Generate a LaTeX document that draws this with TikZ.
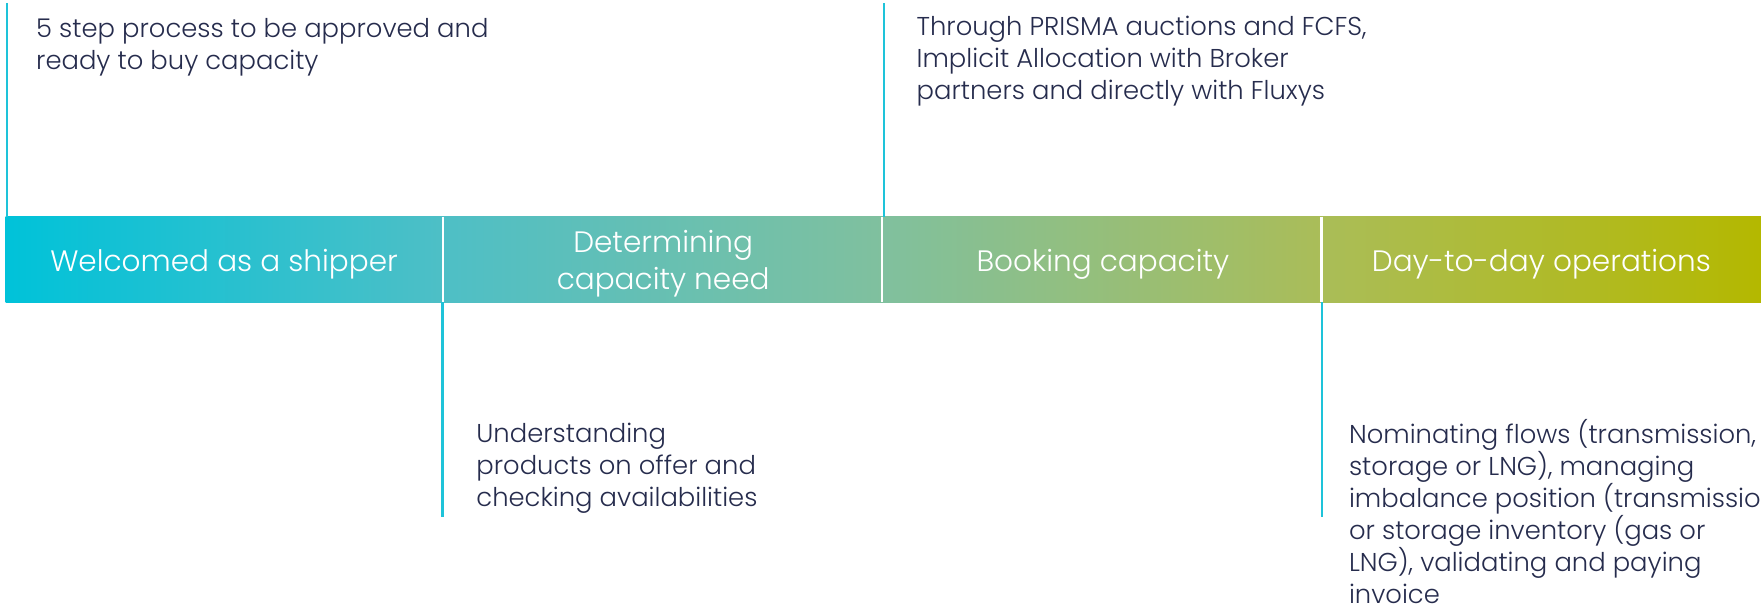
\documentclass[tikz,border=0pt]{standalone}
\usepackage{fontspec}
\setmainfont{Poppins}
\IfFontExistsTF{Poppins Light}{\newfontfamily\lightfont{Poppins Light}}{\newfontfamily\lightfont{Poppins}}
\definecolor{txt}{HTML}{262C4D}
\definecolor{vline}{HTML}{1EC3D9}
\definecolor{c0}{HTML}{00C2D9}
\definecolor{c1}{HTML}{4EBFC6}
\definecolor{c2}{HTML}{80C09E}
\definecolor{c3}{HTML}{AABD58}
\definecolor{c4}{HTML}{B4B800}
\pgfdeclarehorizontalshading{barshade}{100bp}{color(0bp)=(c0); color(25bp)=(c0); color(37.5bp)=(c1); color(50bp)=(c2); color(62.5bp)=(c3); color(75bp)=(c4); color(100bp)=(c4)}
\tikzset{
  segbox/.style={minimum width=389bp, minimum height=76bp, inner sep=0pt},
  seglabel/.style={inner sep=0pt, text=white, align=center,
    font=\lightfont\fontsize{26.3bp}{33bp}\selectfont},
  note/.style={anchor=base west, inner sep=0pt, text=txt, align=left,
    font=\lightfont\fontsize{23bp}{28.5bp}\selectfont},
  sepline/.style={draw=white, line width=2bp},
  tick/.style={draw=vline, line width=2bp}
}
\begin{document}
\begin{tikzpicture}[x=1bp,y=-1bp]
\useasboundingbox (0,0) rectangle (1568,541.4);
\clip (0,0) rectangle (1568,541.4);
\shade[shading=barshade] (5,193) rectangle (1568,269);
\node[segbox] (s1) at (199.5,231) {};
\node[segbox] (s2) at (590.5,231) {};
\node[segbox] (s3) at (982,231) {};
\node[segbox] (s4) at (1372.5,231) {};
\node[seglabel] (l1) at (199.5,235) {Welcomed as a shipper};
\node[seglabel] (l2) at (590.5,235) {Determining\\capacity need};
\node[seglabel] (l3) at (982,235) {Booking capacity};
\node[seglabel] (l4) at (1372.5,235) {Day-to-day operations};
\draw[sepline] (s1.north east) -- (s1.south east);
\draw[sepline] (s2.north east) -- (s2.south east);
\draw[sepline] (s3.north east) -- (s3.south east);
% callout lines
\coordinate (p1) at (6,3);
\coordinate (q1) at (6,193);
\coordinate (p2) at (787,3);
\coordinate (q2) at (787,193);
\coordinate (p3) at (394,269);
\coordinate (q3) at (394,460);
\coordinate (p4) at (1177,269);
\coordinate (q4) at (1177,460);
\draw[tick] (p1) -- (q1);
\draw[tick] (p2) -- (q2);
\draw[tick] (p3) -- (q3);
\draw[tick] (p4) -- (q4);
\node[note] (t1) at (32,62) {5 step process to be approved and\\ready to buy capacity};
\node[note] (t2) at (816,89) {Through PRISMA auctions and FCFS,\\Implicit Allocation with Broker\\partners and directly with Fluxys};
\node[note] (t3) at (424,451) {Understanding\\products on offer and\\checking availabilities};
\node[note] (t4) at (1201,537) {Nominating flows (transmission,\\storage or LNG), managing\\imbalance position (transmission\\or storage inventory (gas or\\LNG), validating and paying\\invoice};
\end{tikzpicture}
\end{document}
